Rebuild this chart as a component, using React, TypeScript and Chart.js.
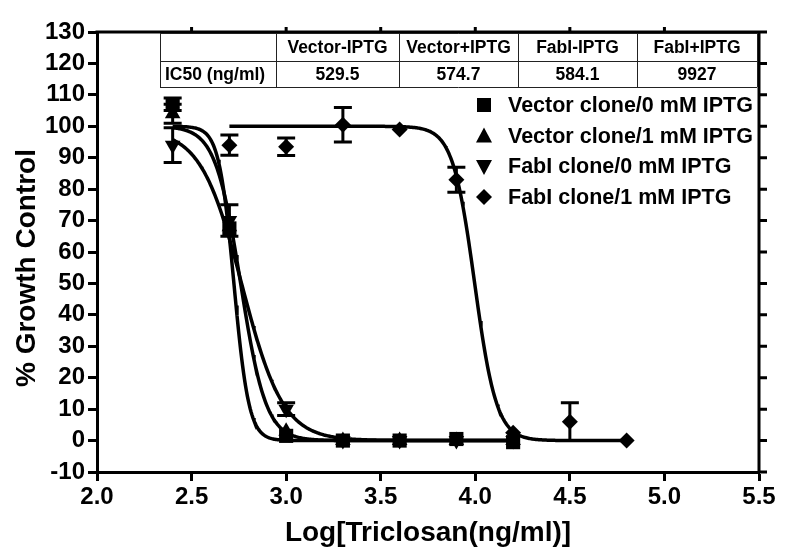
import React, { useEffect, useRef } from 'react';
import { Chart, registerables } from 'chart.js';

Chart.register(...registerables);

// ---------- data ----------
const xLog = [2.4, 2.7, 3.0, 3.3, 3.6, 3.9, 4.2];
const fabi1X = [2.7, 3.0, 3.3, 3.6, 3.9, 4.2, 4.5, 4.8];

const vector0Y = [107, 67.5, 1.5, 0, 0, 0.5, -0.5];
const vector0Err = [2, 0, 0, 0, 0, 0, 0];
const vector1Y = [104, 68, 3, 0, 0, 0, 0];
const vector1Err = [3, 0, 0, 0, 0, 0, 0];
const fabi0Y = [94, 70, 10, 0, 0, 0, 0];
const fabi0Err = [5.5, 5, 2, 0, 0, 0, 0];
const fabi1Y = [94, 93.5, 100.5, 99, 83, 2.5, 6, 0];
const fabi1Err = [3.2, 2.8, 5.5, 0, 4, 0, 6, 0];

const seriesNames = [
  'Vector clone/0 mM IPTG',
  'Vector clone/1 mM IPTG',
  'FabI clone/0 mM IPTG',
  'FabI clone/1 mM IPTG',
];

// IC50 table
const tableHeaders = ['', 'Vector-IPTG', 'Vector+IPTG', 'FabI-IPTG', 'FabI+IPTG'];
const tableRowLabel = 'IC50 (ng/ml)';
const ic50Values = [529.5, 574.7, 584.1, 9927];
const ic50Labels = ['529.5', '574.7', '584.1', '9927'];

// sigmoidal fit parameters (one per series)
const fitTop = [100, 100, 99, 100];
const fitBottom = [0, 0, 0, 0];
const fitHill = [11, 6.5, 4, 7.5];
const fitStart = [2.4, 2.4, 2.4, 2.7];
const fitEnd = [4.2, 4.2, 4.2, 4.8];

const yTicks = { min: -10, max: 130, step: 10 };
const xTicksCfg = { min: 2.0, max: 5.5, step: 0.5 };

// ---------- helpers ----------
const FONT = '"Liberation Sans", Arial, Helvetica, sans-serif';

function fitCurve(i: number) {
  const pts: { x: number; y: number }[] = [];
  const logIC50 = Math.log10(ic50Values[i]);
  const n = Math.round((fitEnd[i] - fitStart[i]) / 0.005);
  for (let k = 0; k <= n; k++) {
    const x = fitStart[i] + k * 0.005;
    const y = fitBottom[i] + (fitTop[i] - fitBottom[i]) / (1 + Math.pow(10, (x - logIC50) * fitHill[i]));
    pts.push({ x, y });
  }
  return pts;
}

function toPts(xs: number[], ys: number[]) {
  return ys.map((y, i) => ({ x: xs[i], y }));
}

function markerPath(ctx: CanvasRenderingContext2D, style: string, x: number, y: number) {
  ctx.beginPath();
  if (style === 'square') {
    ctx.rect(x - 7, y - 7, 14, 14);
  } else if (style === 'up') {
    ctx.moveTo(x, y - 8.5);
    ctx.lineTo(x + 8, y + 6.5);
    ctx.lineTo(x - 8, y + 6.5);
    ctx.closePath();
  } else if (style === 'down') {
    ctx.moveTo(x, y + 8.5);
    ctx.lineTo(x + 8, y - 6.5);
    ctx.lineTo(x - 8, y - 6.5);
    ctx.closePath();
  } else {
    ctx.moveTo(x, y - 8);
    ctx.lineTo(x + 8, y);
    ctx.lineTo(x, y + 8);
    ctx.lineTo(x - 8, y);
    ctx.closePath();
  }
  ctx.fill();
}

const errorBarPlugin = {
  id: 'errorBars',
  beforeDatasetsDraw(chart: any) {
    const ctx = chart.ctx;
    const xs = chart.scales.x;
    const ys = chart.scales.y;
    ctx.save();
    ctx.strokeStyle = '#000';
    ctx.lineWidth = 3;
    chart.data.datasets.forEach((ds: any) => {
      if (!ds.errors) return;
      ds.data.forEach((p: any, j: number) => {
        const e = ds.errors[j];
        if (!e) return;
        const px = xs.getPixelForValue(p.x);
        const t = ys.getPixelForValue(p.y + e);
        const b = ys.getPixelForValue(p.y - e);
        ctx.beginPath();
        ctx.moveTo(px, t);
        ctx.lineTo(px, b);
        ctx.moveTo(px - 9, t);
        ctx.lineTo(px + 9, t);
        ctx.moveTo(px - 9, b);
        ctx.lineTo(px + 9, b);
        ctx.stroke();
      });
    });
    ctx.restore();
  },
};

const decorPlugin = {
  id: 'decor',
  afterDraw(chart: any) {
    const ctx: CanvasRenderingContext2D = chart.ctx;
    const a = chart.chartArea;
    const xs = chart.scales.x;
    const ys = chart.scales.y;
    ctx.save();

    // top and right frame with ticks
    ctx.strokeStyle = '#000';
    ctx.lineWidth = 3;
    ctx.beginPath();
    ctx.moveTo(a.left - 1.5, a.top);
    ctx.lineTo(a.right, a.top);
    ctx.moveTo(a.right, a.top - 1.5);
    ctx.lineTo(a.right, a.bottom + 1.5);
    for (let v = yTicks.min; v <= yTicks.max + 1e-9; v += yTicks.step) {
      const py = ys.getPixelForValue(v);
      ctx.moveTo(a.right, py);
      ctx.lineTo(a.right + 8, py);
    }
    for (let v = xTicksCfg.min + xTicksCfg.step; v < xTicksCfg.max - 1e-9; v += xTicksCfg.step) {
      const px = xs.getPixelForValue(v);
      ctx.moveTo(px, a.top);
      ctx.lineTo(px, a.top - 5);
    }
    ctx.stroke();

    // IC50 table
    const colX = [160, 276, 399, 518, 637, 757];
    const rowY = [33, 61, 87];
    ctx.lineWidth = 1;
    ctx.strokeStyle = '#222';
    ctx.beginPath();
    rowY.forEach((ry) => {
      ctx.moveTo(colX[0], ry + 0.5);
      ctx.lineTo(colX[colX.length - 1], ry + 0.5);
    });
    colX.forEach((cx) => {
      ctx.moveTo(cx + 0.5, rowY[0]);
      ctx.lineTo(cx + 0.5, rowY[rowY.length - 1]);
    });
    ctx.stroke();
    ctx.fillStyle = '#000';
    ctx.font = `bold 17.5px ${FONT}`;
    ctx.textBaseline = 'middle';
    ctx.textAlign = 'center';
    tableHeaders.forEach((h, i) => {
      if (!h) return;
      ctx.fillText(h, (colX[i] + colX[i + 1]) / 2, (rowY[0] + rowY[1]) / 2 + 1);
    });
    ctx.textAlign = 'left';
    ctx.fillText(tableRowLabel, colX[0] + 5, (rowY[1] + rowY[2]) / 2 + 1);
    ctx.textAlign = 'center';
    ic50Labels.forEach((v, i) => {
      ctx.fillText(v, (colX[i + 1] + colX[i + 2]) / 2, (rowY[1] + rowY[2]) / 2 + 1);
    });

    // legend
    const styles = ['square', 'up', 'down', 'diamond'];
    const legY = [105, 136, 166.5, 197];
    ctx.font = `bold 21.5px ${FONT}`;
    ctx.textAlign = 'left';
    ctx.textBaseline = 'middle';
    seriesNames.forEach((name, i) => {
      markerPath(ctx, styles[i], 484, legY[i]);
      ctx.fillText(name, 508, legY[i] + 1);
    });

    // axis titles
    ctx.font = `bold 28px ${FONT}`;
    ctx.textAlign = 'center';
    ctx.textBaseline = 'middle';
    ctx.fillText('Log[Triclosan(ng/ml)]', (a.left + a.right) / 2, 533);
    ctx.save();
    ctx.translate(27, 268);
    ctx.rotate(-Math.PI / 2);
    ctx.fillText('% Growth Control', 0, 0);
    ctx.restore();

    ctx.restore();
  },
};

export default function App() {
  const ref = useRef<HTMLCanvasElement>(null);

  useEffect(() => {
    if (!ref.current) return;
    const curveDs = [0, 1, 2, 3].map((i) => ({
      label: 'fit' + i,
      data: fitCurve(i),
      showLine: true,
      borderColor: '#000',
      borderWidth: 3.5,
      pointRadius: 0,
      fill: false,
      tension: 0,
    }));
    const marker = (data: any[], errors: number[], style: string, radius: number, rotation = 0) => ({
      label: style,
      data,
      errors,
      showLine: false,
      pointStyle: style,
      pointRadius: radius,
      pointRotation: rotation,
      pointBackgroundColor: '#000',
      pointBorderColor: '#000',
      pointBorderWidth: 0,
    });
    const chart = new Chart(ref.current, {
      type: 'scatter',
      data: {
        datasets: [
          marker(toPts(xLog, vector0Y), vector0Err, 'rect', 10),
          marker(toPts(xLog, vector1Y), vector1Err, 'triangle', 9),
          marker(toPts(xLog, fabi0Y), fabi0Err, 'triangle', 9, 180),
          marker(toPts(fabi1X, fabi1Y), fabi1Err, 'rectRot', 8),
          ...curveDs,
        ] as any,
      },
      options: {
        responsive: false,
        maintainAspectRatio: false,
        animation: false,
        devicePixelRatio: 1,
        layout: { padding: { top: 32, right: 38, left: 0, bottom: 0 } },
        plugins: { legend: { display: false }, tooltip: { enabled: false }, title: { display: false } },
        scales: {
          x: {
            type: 'linear',
            min: xTicksCfg.min,
            max: xTicksCfg.max,
            ticks: {
              stepSize: xTicksCfg.step,
              callback: (v: any) => Number(v).toFixed(1),
              font: { family: FONT, size: 24, weight: 'bold' },
              color: '#000',
              padding: 2,
              maxRotation: 0,
              autoSkip: false,
            },
            grid: { drawOnChartArea: false, drawTicks: true, tickLength: 9, tickWidth: 3, tickColor: '#000' },
            border: { display: true, width: 3, color: '#000' },
            afterFit: (s: any) => { s.height = 87; },
          },
          y: {
            type: 'linear',
            min: yTicks.min,
            max: yTicks.max,
            ticks: {
              stepSize: yTicks.step,
              font: { family: FONT, size: 24, weight: 'bold' },
              color: '#000',
              padding: 3,
              autoSkip: false,
            },
            grid: { drawOnChartArea: false, drawTicks: true, tickLength: 9, tickWidth: 3, tickColor: '#000' },
            border: { display: true, width: 3, color: '#000' },
            afterFit: (s: any) => { s.width = 97; },
          },
        },
      } as any,
      plugins: [errorBarPlugin, decorPlugin],
    });
    return () => chart.destroy();
  }, []);

  return (
    <div style={{ position: 'absolute', left: 0, top: 0, width: 797, height: 559, background: '#fff' }}>
      <canvas ref={ref} width={797} height={559} />
    </div>
  );
}
